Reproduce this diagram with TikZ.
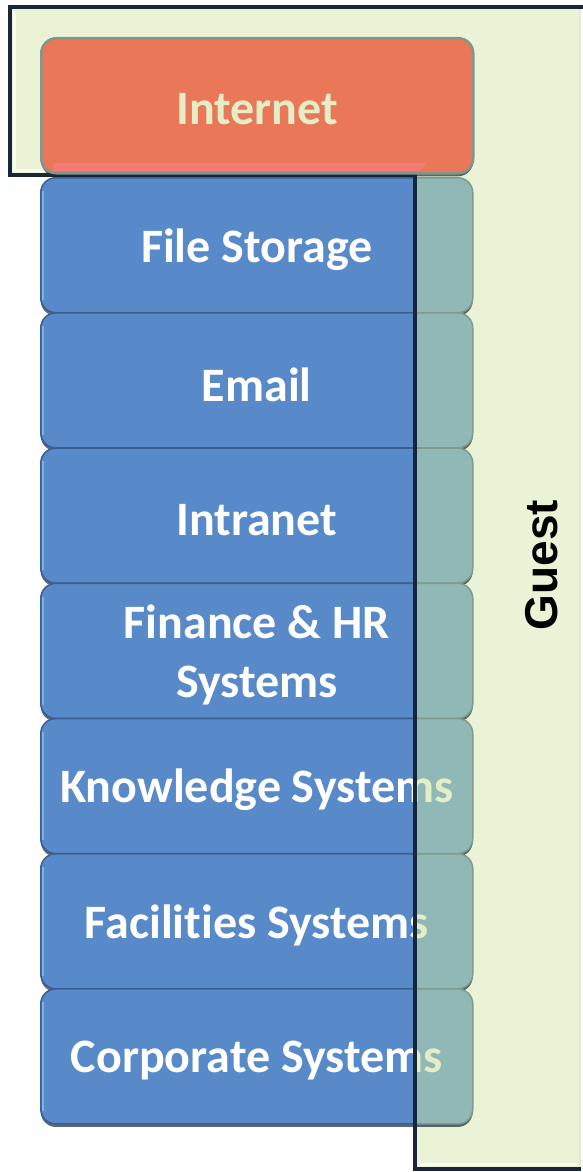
\documentclass[tikz,border=0pt]{standalone}
\usepackage{fontspec}
\setmainfont{Carlito}[Ligatures=NoCommon]
\newfontfamily\arialf{Liberation Sans}
\usetikzlibrary{shadows}
\definecolor{boxblue}{HTML}{5889C8}
\definecolor{boxedge}{HTML}{3A5F8E}
\definecolor{boxhi}{HTML}{8DB8F0}
\definecolor{boxteal}{HTML}{8FB8B6}
\definecolor{tealedge}{HTML}{7E9C8C}
\definecolor{panelgreen}{HTML}{EAF3D6}
\definecolor{paneldark}{HTML}{18263A}
\definecolor{paletext}{HTML}{E4EDC6}
\definecolor{netorange}{HTML}{E97758}
\definecolor{netedge}{HTML}{84968A}
\definecolor{netpink}{HTML}{F47A78}
\tikzset{
  sysbox/.style={rounded corners=15pt, fill=boxblue, draw=boxedge, line width=1.5pt,
    minimum width=432pt, minimum height=135pt, anchor=north west, inner sep=0pt,
    drop shadow={shadow xshift=0pt, shadow yshift=-3pt, fill=paneldark, opacity=0.7}},
  tealbox/.style={sysbox, fill=boxteal, draw=tealedge},
  netbox/.style={sysbox, fill=netorange, draw=netedge, line width=2.5pt, drop shadow={opacity=0}},
  systext/.style={text=white, align=center, font=\bfseries\fontsize{48}{59}\selectfont, inner sep=0pt},
  tealtext/.style={systext, text=paletext},
  paneledge/.style={draw=paneldark, line width=4pt},
  guesttext/.style={font=\arialf\bfseries\fontsize{46}{50}\selectfont, rotate=90, text=black}
}
\begin{document}
\begin{tikzpicture}[x=1pt,y=-1pt]
\useasboundingbox (0,0) rectangle (583,1172);
% blue system boxes
\foreach \nm/\txt/\k in {fs/{File Storage}/0, em/Email/1, in/Intranet/2,
   fh/{Finance \& HR\\Systems}/3, ks/{Knowledge Systems}/4,
   fa/{Facilities Systems}/5, cs/{Corporate Systems}/6}{
  \node[sysbox] (\nm) at (40,{177+135.2*\k}) {};
  \draw[boxhi, line width=2pt, opacity=0.8] ([shift={(3pt,-14pt)}]\nm.north west) -- ([shift={(3pt,14pt)}]\nm.south west);
  \node[systext, yshift=-4pt] (\nm-t) at (\nm.center) {\txt};
}
% guest panel
\path[fill=panelgreen] (10,7) -- (581,7) -- (581,1169) -- (415,1169) -- (415,175) -- (10,175) -- cycle;
\begin{scope}
  \clip (10,7) -- (581,7) -- (581,1169) -- (415,1169) -- (415,175) -- (10,175) -- cycle;
  \foreach \nm/\txt/\k in {fs/{File Storage}/0, em/Email/1, in/Intranet/2,
     fh/{Finance \& HR\\Systems}/3, ks/{Knowledge Systems}/4,
     fa/{Facilities Systems}/5, cs/{Corporate Systems}/6}{
    \node[tealbox] (\nm-g) at (40,{177+135.2*\k}) {};
    \node[tealtext, yshift=-4pt] (\nm-gt) at (\nm-g.center) {\txt};
  }
\end{scope}
% bevel highlights
\draw[white, line width=3pt, opacity=0.8] (14.5,11) -- (14.5,170.5) -- (411,170.5);
\draw[white, line width=3pt, opacity=0.8] (419.5,1164.5) -- (577,1164.5);
\draw[white!80!gray, line width=2pt] (580,7) -- (580,1169);
% dark panel edges
\draw[paneledge, line cap=rect] (10,175) -- (10,7) -- (581,7);
\draw[paneledge] (10,175) -- (415,175) -- (415,1169) -- (581,1169);
% guest label
\node[guesttext] (guest) at (542,565) {Guest};
% internet box on top
\node[netbox] (net) at (40,37) {};
\fill[netpink] (53,163) -- (427,163) -- (419,171) -- (53,171) -- cycle;
\node[tealtext, yshift=-3pt] (net-t) at (net.center) {Internet};
\end{tikzpicture}
\end{document}
